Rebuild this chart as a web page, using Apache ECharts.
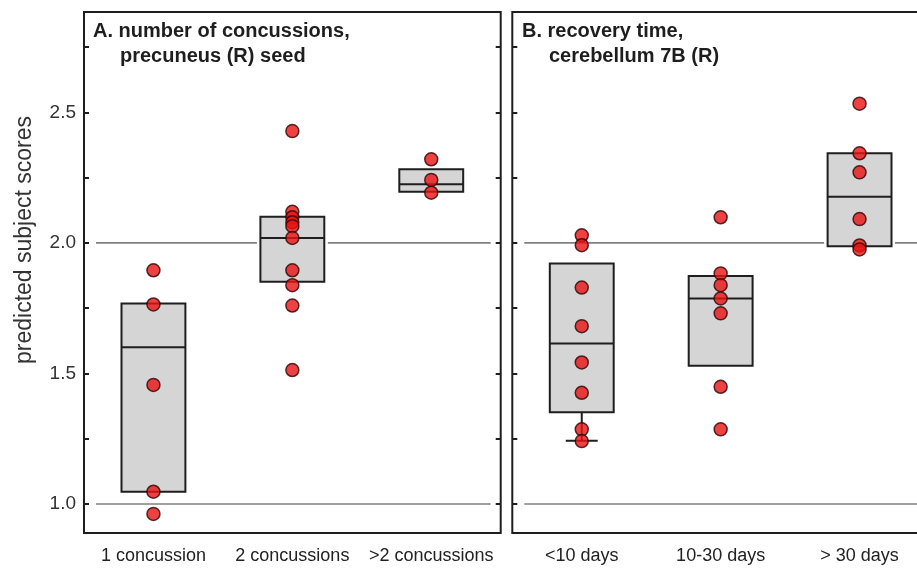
<!DOCTYPE html>
<html>
<head>
<meta charset="utf-8">
<script src="https://cdn.jsdelivr.net/npm/echarts@6/dist/echarts.min.js"></script>
<style>
html,body{margin:0;padding:0;background:#fff;}
#chart{width:917px;height:572px;}
</style>
</head>
<body>
<div id="chart"></div>
<script>
// ---------- data ----------
const categoriesA = ['1 concussion', '2 concussions', '>2 concussions'];
const categoriesB = ['<10 days', '10-30 days', '> 30 days'];

const yTickLabels = [1.0, 1.5, 2.0, 2.5];
const yMinorTicks = [1.0, 1.25, 1.5, 1.75, 2.0, 2.25, 2.5, 2.75];
const yRange = [0.889, 2.884];
const refLevels = [1.0, 2.0];

// boxes: [category index, lower whisker, Q1, median, Q3, upper whisker]
const boxesA = [
  [0, 1.047, 1.047, 1.600, 1.768, 1.768],
  [1, 1.851, 1.851, 2.019, 2.0995, 2.0995],
  [2, 2.196, 2.196, 2.2245, 2.282, 2.282]
];
const boxesB = [
  [0, 1.242, 1.351, 1.615, 1.921, 1.921],
  [1, 1.529, 1.529, 1.787, 1.873, 1.873],
  [2, 1.987, 1.987, 2.177, 2.343, 2.343]
];

// subject scores
const pointsA_1 = [1.895, 1.764, 1.456, 1.047, 0.962];
const pointsA_2 = [2.428, 2.119, 2.098, 2.079, 2.064, 2.019, 1.895, 1.838, 1.760, 1.513];
const pointsA_3 = [2.320, 2.241, 2.192];
const pointsB_1 = [2.029, 1.991, 1.829, 1.681, 1.542, 1.426, 1.286, 1.241];
const pointsB_2 = [2.098, 1.883, 1.838, 1.787, 1.730, 1.449, 1.286];
const pointsB_3 = [2.533, 2.343, 2.270, 2.091, 1.990, 1.975];

const titleA = ['A. number of concussions,', 'precuneus (R) seed'];
const titleB = ['B. recovery time,', 'cerebellum 7B (R)'];
const yTitle = 'predicted subject scores';

// ---------- helpers ----------
function toPoints(groups) {
  const out = [];
  groups.forEach((g, i) => g.forEach(v => out.push([i, v])));
  return out;
}
const FONT = '"Liberation Sans", Arial, sans-serif';
const INK = '#1e1e1e';

function renderBox(params, api) {
  const c = api.value(0);
  const lo = api.value(1), q1 = api.value(2), med = api.value(3), q3 = api.value(4), hi = api.value(5);
  const band = api.size([1, 0])[0];
  const w = band * 0.46;
  const cx = api.coord([c, q1])[0];
  const yQ1 = api.coord([c, q1])[1];
  const yQ3 = api.coord([c, q3])[1];
  const yMed = api.coord([c, med])[1];
  const yLo = api.coord([c, lo])[1];
  const yHi = api.coord([c, hi])[1];
  const halo = 3.5;
  const children = [
    { type: 'rect', shape: { x: cx - w / 2 - halo, y: yQ3 - halo, width: w + 2 * halo, height: yQ1 - yQ3 + 2 * halo },
      style: { fill: '#ffffff', stroke: null } },
    { type: 'rect', shape: { x: cx - w / 2, y: yQ3, width: w, height: yQ1 - yQ3 },
      style: { fill: '#d5d5d5', stroke: INK, lineWidth: 2 } },
    { type: 'line', shape: { x1: cx - w / 2, y1: yMed, x2: cx + w / 2, y2: yMed },
      style: { stroke: INK, lineWidth: 2 } }
  ];
  if (yLo - yQ1 > 1) {
    children.push({ type: 'line', shape: { x1: cx, y1: yQ1, x2: cx, y2: yLo }, style: { stroke: INK, lineWidth: 2 } });
    children.push({ type: 'line', shape: { x1: cx - w / 4, y1: yLo, x2: cx + w / 4, y2: yLo }, style: { stroke: INK, lineWidth: 2 } });
  }
  if (yQ3 - yHi > 1) {
    children.push({ type: 'line', shape: { x1: cx, y1: yQ3, x2: cx, y2: yHi }, style: { stroke: INK, lineWidth: 2 } });
    children.push({ type: 'line', shape: { x1: cx - w / 4, y1: yHi, x2: cx + w / 4, y2: yHi }, style: { stroke: INK, lineWidth: 2 } });
  }
  return { type: 'group', children };
}

function renderRef(params, api) {
  const cs = params.coordSys;
  const y = api.coord([0, api.value(1)])[1];
  return {
    type: 'line',
    shape: { x1: cs.x + 12, y1: y, x2: cs.x + cs.width - 10, y2: y },
    style: { stroke: '#808080', lineWidth: 1.6 }
  };
}

function yAxisFor(gridIndex, position, showLabels) {
  return {
    type: 'value', gridIndex, position,
    min: yRange[0], max: yRange[1],
    splitLine: { show: false },
    axisLine: { show: false },
    axisTick: { show: true, inside: true, length: 5, customValues: yMinorTicks,
      lineStyle: { color: INK, width: 2 } },
    axisLabel: { show: showLabels, customValues: yTickLabels, margin: 8,
      formatter: v => Number(v).toFixed(1),
      fontFamily: FONT, fontSize: 19, color: '#333' }
  };
}

function xAxisFor(gridIndex, cats) {
  return {
    type: 'category', gridIndex, data: cats, boundaryGap: true,
    axisLine: { show: false }, axisTick: { show: false }, splitLine: { show: false },
    axisLabel: { fontFamily: FONT, fontSize: 18, color: '#222', margin: 14, interval: 0 }
  };
}

const pointStyle = { color: '#ea1212', borderColor: '#2a0505', borderWidth: 1.5 };

const chart = echarts.init(document.getElementById('chart'), null, { renderer: 'canvas' });
chart.setOption({
  animation: false,
  backgroundColor: '#ffffff',
  grid: [
    { left: 84, top: 12, width: 416.7, bottom: 39, show: true, borderColor: INK, borderWidth: 2,
      backgroundColor: 'transparent', outerBoundsMode: 'none', containLabel: false },
    { left: 512.3, top: 12, width: 416.7, bottom: 39, show: true, borderColor: INK, borderWidth: 2,
      backgroundColor: 'transparent', outerBoundsMode: 'none', containLabel: false }
  ],
  xAxis: [xAxisFor(0, categoriesA), xAxisFor(1, categoriesB)],
  yAxis: [
    yAxisFor(0, 'left', true),
    yAxisFor(0, 'right', false),
    yAxisFor(1, 'left', false),
    yAxisFor(1, 'right', false)
  ],
  title: [
    { text: titleA[0], left: 88, top: 16, textStyle: { fontFamily: FONT, fontSize: 20, fontWeight: 'bold', color: INK } },
    { text: titleA[1], left: 115, top: 41.5, textStyle: { fontFamily: FONT, fontSize: 20, fontWeight: 'bold', color: INK } },
    { text: titleB[0], left: 517, top: 16, textStyle: { fontFamily: FONT, fontSize: 20, fontWeight: 'bold', color: INK } },
    { text: titleB[1], left: 544, top: 41.5, textStyle: { fontFamily: FONT, fontSize: 20, fontWeight: 'bold', color: INK } }
  ],
  graphic: [
    { type: 'text', x: 25, y: 240, rotation: Math.PI / 2,
      style: { text: yTitle, fontFamily: FONT, fontSize: 23, fill: '#333', align: 'center', verticalAlign: 'middle' } }
  ],
  series: [
    { type: 'custom', xAxisIndex: 0, yAxisIndex: 0, renderItem: renderRef, data: refLevels.map(v => [0, v]), z: 1, silent: true },
    { type: 'custom', xAxisIndex: 1, yAxisIndex: 2, renderItem: renderRef, data: refLevels.map(v => [0, v]), z: 1, silent: true },
    { type: 'custom', xAxisIndex: 0, yAxisIndex: 0, renderItem: renderBox, data: boxesA,
      encode: { x: 0, y: [1, 2, 3, 4, 5] }, z: 2, silent: true },
    { type: 'custom', xAxisIndex: 1, yAxisIndex: 2, renderItem: renderBox, data: boxesB,
      encode: { x: 0, y: [1, 2, 3, 4, 5] }, z: 2, silent: true },
    { type: 'scatter', xAxisIndex: 0, yAxisIndex: 0, symbol: 'circle', symbolSize: 13,
      itemStyle: pointStyle, data: toPoints([pointsA_1, pointsA_2, pointsA_3]), z: 3 },
    { type: 'scatter', xAxisIndex: 1, yAxisIndex: 2, symbol: 'circle', symbolSize: 13,
      itemStyle: pointStyle, data: toPoints([pointsB_1, pointsB_2, pointsB_3]), z: 3 }
  ]
});
</script>
</body>
</html>
